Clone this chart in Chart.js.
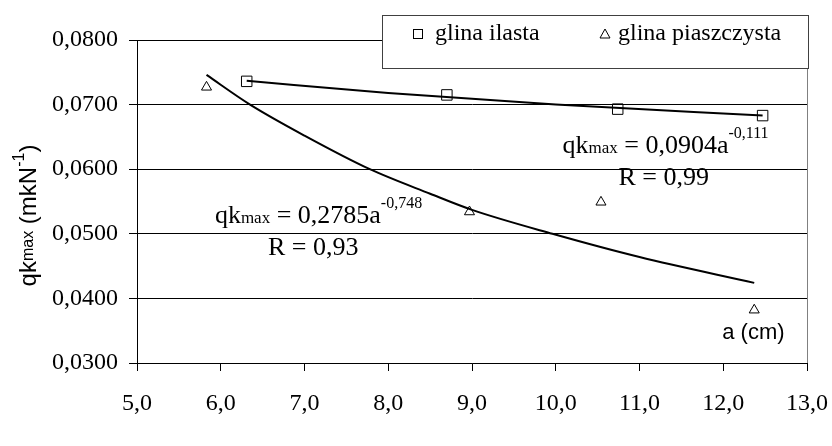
<!DOCTYPE html>
<html>
<head>
    <title>qkmax vs a</title>
    <script src="https://cdn.jsdelivr.net/npm/chart.js"></script>
    <style>
        body {
            margin: 0;
            background-color: #fff;
        }

        .chart-box {
            width: 832px;
            height: 446px;
        }
    </style>
</head>
<body>
    <div class="chart-box">
        <canvas id="graph" width="832" height="446"></canvas>
    </div>

    <script>
        // measured points
        const ilastaA = [6.31, 8.70, 10.74, 12.47];
        const ilastaQ = [0.0736, 0.0715, 0.0693, 0.0683];
        const piaszA = [5.83, 8.97, 10.54, 12.37];
        const piaszQ = [0.0727, 0.0534, 0.0549, 0.0382];

        // trend lines
        const trendIlastaA = [6.31, 8.0, 10.0, 12.47];
        const trendIlastaQ = [0.0737, 0.0718, 0.0700, 0.0683];
        const trendPiaszA = [5.83, 6.35, 7.0, 7.78, 8.5, 9.0, 9.96, 11.0, 12.37];
        const trendPiaszQ = [0.0746, 0.0700, 0.0652, 0.0600, 0.0562, 0.0537, 0.0500, 0.0464, 0.0424];

        const seriesNames = ["glina ilasta", "glina piaszczysta"];
        const xTicks = [5, 6, 7, 8, 9, 10, 11, 12, 13];
        const yTicks = [0.03, 0.04, 0.05, 0.06, 0.07, 0.08];

        function toPoints(xs, ys) {
            return xs.map((x, i) => ({ x: x, y: ys[i] }));
        }

        const serif = "'Liberation Serif', 'Times New Roman', serif";
        const sans = "'Liberation Sans', Arial, sans-serif";

        // draws a row of text pieces with different sizes / raise
        function drawParts(ctx, x, y, parts, family) {
            var cx = x;
            for (var i = 0; i < parts.length; i++) {
                var p = parts[i];
                ctx.font = p.size + "px " + family;
                ctx.fillText(p.t, cx, y - (p.up || 0));
                cx += ctx.measureText(p.t).width;
            }
            return cx - x;
        }

        function partsWidth(ctx, parts, family) {
            var w = 0;
            for (var i = 0; i < parts.length; i++) {
                ctx.font = parts[i].size + "px " + family;
                w += ctx.measureText(parts[i].t).width;
            }
            return w;
        }

        const extrasPlugin = {
            id: "extras",
            afterDraw(chart) {
                const ctx = chart.ctx;
                const area = chart.chartArea;
                const xs = chart.scales.x;
                const ys = chart.scales.y;
                ctx.save();

                // right frame line
                ctx.strokeStyle = "#808080";
                ctx.lineWidth = 1;
                ctx.beginPath();
                ctx.moveTo(Math.round(area.right) + 0.5, area.top);
                ctx.lineTo(Math.round(area.right) + 0.5, area.bottom);
                ctx.stroke();

                ctx.fillStyle = "#000";
                ctx.textBaseline = "alphabetic";
                ctx.textAlign = "left";

                // equation for glina ilasta
                var x1 = xs.getPixelForValue(10.08);
                var y1 = ys.getPixelForValue(0.06248);
                drawParts(ctx, x1, y1, [
                    { t: "qk", size: 26 },
                    { t: "max", size: 17 },
                    { t: " = 0,0904a", size: 26 },
                    { t: "-0,111", size: 16, up: 15 }
                ], serif);
                ctx.font = "26px " + serif;
                ctx.fillText("R = 0,99", x1 + 56, y1 + 32);

                // equation for glina piaszczysta
                var x2 = xs.getPixelForValue(5.93);
                var y2 = ys.getPixelForValue(0.05163);
                drawParts(ctx, x2, y2, [
                    { t: "qk", size: 26 },
                    { t: "max", size: 17 },
                    { t: " = 0,2785a", size: 26 },
                    { t: "-0,748", size: 16, up: 15 }
                ], serif);
                ctx.font = "26px " + serif;
                ctx.fillText("R = 0,93", x2 + 53, y2 + 32);

                // x axis title inside plot
                ctx.font = "22px " + sans;
                ctx.textAlign = "center";
                ctx.textBaseline = "middle";
                ctx.fillText("a (cm)", xs.getPixelForValue(12.36), ys.getPixelForValue(0.03465));

                // y axis title, rotated
                ctx.save();
                ctx.translate(29, (area.top + area.bottom) / 2 + 14);
                ctx.rotate(-Math.PI / 2);
                ctx.textAlign = "left";
                var yParts = [
                    { t: "qk", size: 24 },
                    { t: "max", size: 16 },
                    { t: " (mkN", size: 24 },
                    { t: "-1", size: 16, up: 9 },
                    { t: ")", size: 24 }
                ];
                var w = partsWidth(ctx, yParts, sans);
                drawParts(ctx, -w / 2, 0, yParts, sans);
                ctx.restore();

                // legend box
                var lx = 382, ly = 15, lw = 426, lh = 53;
                ctx.fillStyle = "#fff";
                ctx.fillRect(lx, ly, lw, lh);
                ctx.strokeStyle = "#404040";
                ctx.strokeRect(lx + 0.5, ly + 0.5, lw, lh);

                ctx.fillStyle = "#000";
                ctx.strokeStyle = "#000";
                ctx.lineWidth = 1;
                var my = ly + 19;
                // square marker
                ctx.strokeRect(413.5, my - 4.5, 9, 9);
                // triangle marker
                ctx.beginPath();
                ctx.moveTo(605, my - 5);
                ctx.lineTo(610, my + 4);
                ctx.lineTo(600, my + 4);
                ctx.closePath();
                ctx.stroke();

                ctx.font = "24px " + serif;
                ctx.textAlign = "left";
                ctx.textBaseline = "middle";
                ctx.fillText(seriesNames[0], 435, my);
                ctx.fillText(seriesNames[1], 618, my);

                ctx.restore();
            }
        };

        const ctx = document.getElementById("graph").getContext("2d");
        new Chart(ctx, {
            type: "scatter",
            data: {
                datasets: [
                    {
                        label: "trend " + seriesNames[0],
                        data: toPoints(trendIlastaA, trendIlastaQ),
                        showLine: true,
                        borderColor: "#000",
                        borderWidth: 2,
                        pointRadius: 0,
                        cubicInterpolationMode: "monotone"
                    },
                    {
                        label: "trend " + seriesNames[1],
                        data: toPoints(trendPiaszA, trendPiaszQ),
                        showLine: true,
                        borderColor: "#000",
                        borderWidth: 2,
                        pointRadius: 0,
                        cubicInterpolationMode: "monotone"
                    },
                    {
                        label: seriesNames[0],
                        data: toPoints(ilastaA, ilastaQ),
                        pointStyle: "rect",
                        pointRadius: 7.4,
                        pointBorderWidth: 1,
                        pointBorderColor: "#000",
                        pointBackgroundColor: "rgba(0,0,0,0)"
                    },
                    {
                        label: seriesNames[1],
                        data: toPoints(piaszA, piaszQ),
                        pointStyle: "triangle",
                        pointRadius: 5.8,
                        pointBorderWidth: 1,
                        pointBorderColor: "#000",
                        pointBackgroundColor: "rgba(0,0,0,0)"
                    }
                ]
            },
            options: {
                responsive: false,
                animation: false,
                layout: {
                    padding: { left: 0, top: 40, right: 25, bottom: 0 }
                },
                plugins: {
                    legend: { display: false },
                    tooltip: { enabled: false }
                },
                scales: {
                    x: {
                        type: "linear",
                        min: 5,
                        max: 13,
                        afterBuildTicks: function (scale) {
                            scale.ticks = xTicks.map(v => ({ value: v }));
                        },
                        afterFit: function (scale) {
                            scale.height = 83;
                            scale.paddingLeft = 0;
                            scale.paddingRight = 0;
                        },
                        grid: {
                            drawOnChartArea: false,
                            drawTicks: true,
                            tickLength: 8,
                            color: "#000"
                        },
                        border: { color: "#000", width: 1 },
                        ticks: {
                            color: "#000",
                            padding: 18,
                            maxRotation: 0,
                            font: { family: serif, size: 24 },
                            callback: v => v.toFixed(1).replace(".", ",")
                        }
                    },
                    y: {
                        type: "linear",
                        min: 0.03,
                        max: 0.08,
                        afterBuildTicks: function (scale) {
                            scale.ticks = yTicks.map(v => ({ value: v }));
                        },
                        afterFit: function (scale) {
                            scale.width = 137;
                            scale.paddingTop = 0;
                            scale.paddingBottom = 0;
                        },
                        grid: {
                            drawOnChartArea: true,
                            drawTicks: true,
                            tickLength: 8,
                            color: "#000"
                        },
                        border: { color: "#000", width: 1 },
                        ticks: {
                            color: "#000",
                            padding: 11,
                            font: { family: serif, size: 24 },
                            callback: v => v.toFixed(4).replace(".", ",")
                        }
                    }
                }
            },
            plugins: [extrasPlugin]
        });
    </script>
</body>
</html>
